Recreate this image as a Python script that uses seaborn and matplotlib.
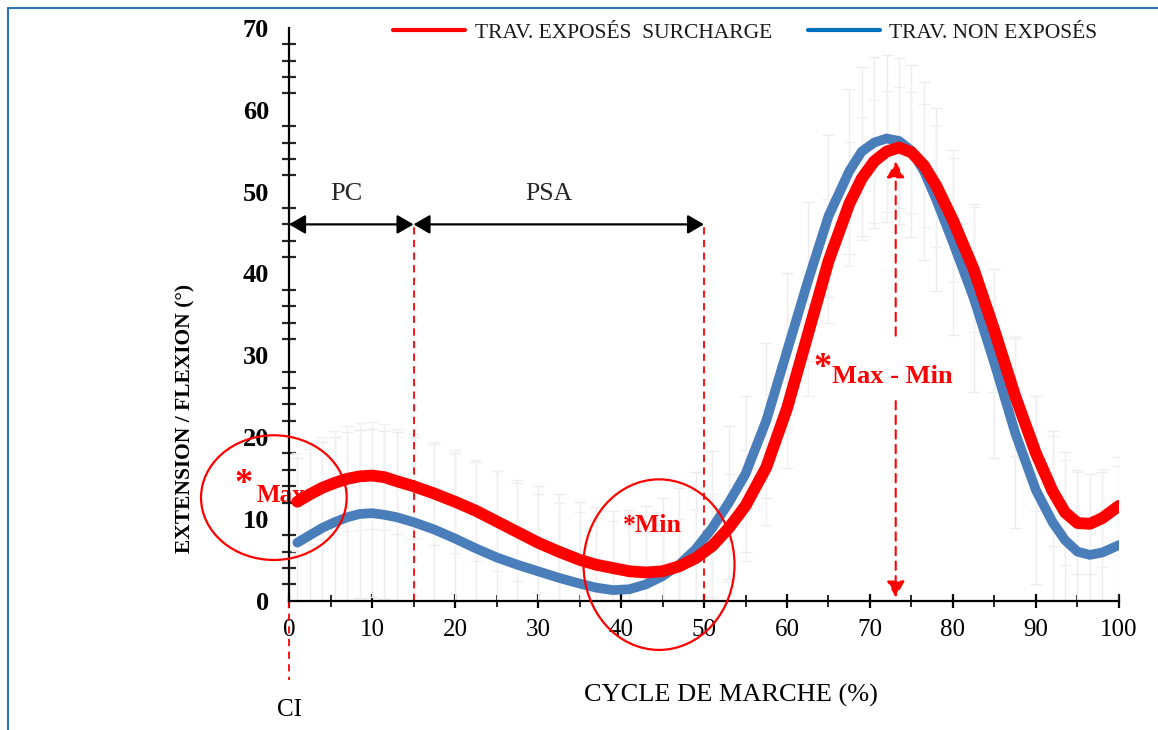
import matplotlib
matplotlib.use("Agg")
import numpy as np
import pandas as pd
import matplotlib.pyplot as plt
import seaborn as sns
from matplotlib.lines import Line2D
from matplotlib.patches import Ellipse

# ---------------- data ----------------
cycle = [1, 2.5, 4, 5.5, 7, 8.5, 10, 11.5, 13,
         15, 17.5, 20, 22.5, 25, 27.5, 30, 32.5, 35,
         37, 39, 41, 43, 45, 47, 49, 51, 53, 55,
         57.5, 60, 62.5, 65, 67.5,
         69, 70.5, 72, 73.5, 75, 76.5, 78,
         80, 82.5, 85, 87.5, 90,
         92, 93.5, 95, 96.5, 98, 100]
exposed = [12.1, 13.0, 13.8, 14.4, 14.9, 15.2, 15.3, 15.1, 14.6,
           14.0, 13.1, 12.1, 11.0, 9.7, 8.4, 7.1, 6.0, 5.0,
           4.4, 4.0, 3.6, 3.45, 3.6, 4.2, 5.2, 6.7, 8.9, 11.6,
           16.3, 23.5, 32.5, 41.5, 48.5,
           51.6, 53.7, 54.9, 55.4, 54.8, 53.2, 50.7,
           46.5, 40.5, 33.0, 25.0, 18.0,
           13.4, 10.8, 9.5, 9.4, 10.1, 11.6]
non_exposed = [7.1, 8.0, 8.9, 9.6, 10.2, 10.6, 10.7, 10.5, 10.2,
               9.6, 8.7, 7.6, 6.4, 5.3, 4.4, 3.6, 2.8, 2.1,
               1.6, 1.3, 1.4, 2.0, 3.0, 4.4, 6.3, 8.9, 12.0, 15.5,
               22.0, 30.5, 39.0, 47.0, 52.5,
               54.9, 56.0, 56.5, 56.2, 55.0, 52.5, 49.0,
               43.8, 37.0, 29.0, 20.5, 13.5,
               9.6, 7.4, 6.0, 5.6, 5.9, 6.8]
sd_non_exposed = [10.4, 10.5, 10.5, 10.4, 10.4, 10.3, 10.3, 10.3, 10.4,
                  10.4, 10.4, 10.4, 10.5, 10.5, 10.4, 10.4, 10.2, 10.0,
                  9.9, 9.7, 9.7, 9.6, 9.5, 9.4, 9.4, 9.4, 9.4, 9.5,
                  9.5, 9.5, 9.7, 9.9, 10.1,
                  10.3, 10.4, 10.2, 10.1, 10.5, 10.9, 11.2,
                  11.3, 11.5, 11.6, 11.6, 11.5,
                  11.2, 10.8, 10.0, 9.9, 9.8, 9.7]
sd_exposed = [6.0, 6.1, 6.2, 6.3, 6.4, 6.5, 6.5, 6.5, 6.4,
              6.4, 6.3, 6.3, 6.2, 6.1, 6.0, 6.0, 5.9, 5.8,
              5.7, 5.7, 5.6, 5.6, 5.7, 5.8, 6.0, 6.3, 6.6, 6.8,
              7.0, 7.3, 7.5, 7.6, 7.6,
              7.5, 7.5, 7.4, 7.4, 7.4, 7.5, 7.5,
              7.6, 7.6, 7.5, 7.3, 7.0,
              6.7, 6.4, 6.2, 6.1, 6.0, 6.0]
series_labels = ["TRAV. EXPOSÉS  SURCHARGE", "TRAV. NON EXPOSÉS"]
x_ticks = [0, 10, 20, 30, 40, 50, 60, 70, 80, 90, 100]
y_ticks = [0, 10, 20, 30, 40, 50, 60, 70]
phase_bounds = [0, 15, 50]
phase_names = ["PC", "PSA"]

df = pd.DataFrame({
    "cycle": cycle * 2,
    "angle": exposed + non_exposed,
    "group": [series_labels[0]] * len(cycle) + [series_labels[1]] * len(cycle),
})

# ---------------- style ----------------
sns.set_theme(style="white")
plt.rcParams["font.family"] = ["Liberation Serif", "DejaVu Serif"]
plt.rcParams["axes.unicode_minus"] = False

RED = "#FF0000"
BLUE_LINE = "#4A7EBB"
BLUE_LEG = "#0070C0"

fig = plt.figure(figsize=(11.58, 7.30), dpi=100)
ax = fig.add_axes([0.2496, 0.1771, 0.7167, 0.7845])

# faint standard-deviation bars
ax.errorbar(cycle, non_exposed, yerr=sd_non_exposed, fmt="none",
            ecolor="#ececec", elinewidth=1.0, capsize=4, capthick=1.0, zorder=1)
ax.errorbar(cycle, exposed, yerr=sd_exposed, fmt="none",
            ecolor="#f0f0f0", elinewidth=1.0, capsize=4, capthick=1.0, zorder=1)

sns.lineplot(data=df[df.group == series_labels[1]], x="cycle", y="angle",
             color=BLUE_LINE, lw=7, ax=ax, legend=False, zorder=3,
             solid_capstyle="round", solid_joinstyle="round")
sns.lineplot(data=df[df.group == series_labels[0]], x="cycle", y="angle",
             color=RED, lw=8.5, ax=ax, legend=False, zorder=4,
             solid_capstyle="round", solid_joinstyle="round")

ax.set_xlim(0, 100)
ax.set_ylim(0, 70)
ax.set_xticks(x_ticks)
ax.set_xticks(np.arange(0, 101, 5), minor=True)
ax.set_yticks(y_ticks)
ax.set_yticks(np.arange(0, 71, 2), minor=True)

for s in ["top", "right"]:
    ax.spines[s].set_visible(False)
for s in ["left", "bottom"]:
    ax.spines[s].set_color("black")
    ax.spines[s].set_linewidth(1.6)

ax.tick_params(axis="y", which="major", direction="inout", length=15, width=1.6,
               labelsize=19, pad=7, colors="black")
ax.tick_params(axis="y", which="minor", direction="inout", length=10, width=1.6,
               left=True)
ax.tick_params(axis="x", which="major", direction="inout", length=10, width=1.6,
               labelsize=18, pad=8, colors="black", bottom=True)
ax.tick_params(axis="x", which="minor", direction="inout", length=8, width=1.4,
               bottom=True)
for lab in ax.get_yticklabels():
    lab.set_fontweight("bold")

ax.set_xlabel("CYCLE DE MARCHE (%)", fontsize=19, color="black")
ax.xaxis.set_label_coords(0.533, -0.145)
ax.set_ylabel("EXTENSION / FLEXION (°)", fontsize=15.5, fontweight="bold",
              color="black")
ax.yaxis.set_label_coords(-0.113, 0.319)

# ---------------- annotations ----------------
dash = (0, (4, 3))
for xb in phase_bounds[1:]:
    ax.plot([xb, xb], [0, 45.8], color=RED, lw=1.3, ls=dash, zorder=2)
ax.plot([0, 0], [0, -9.7], color=RED, lw=1.3, ls=dash, clip_on=False, zorder=2)
ax.text(0, -13.4, "CI", ha="center", va="center", fontsize=18, color="black")

for (a, b), name in zip(zip(phase_bounds[:-1], phase_bounds[1:]), phase_names):
    ax.annotate("", xy=(b, 46.0), xytext=(a, 46.0),
                arrowprops=dict(arrowstyle="<|-|>,head_length=0.55,head_width=0.32",
                                color="black", lw=1.6, mutation_scale=18,
                                shrinkA=0, shrinkB=0), zorder=5)
ax.text(6.9, 49.7, phase_names[0], ha="center", va="center", fontsize=19)
ax.text(31.3, 49.7, phase_names[1], ha="center", va="center", fontsize=18.5)

# Max - Min arrow
x_mm = 73.1
ax.annotate("", xy=(x_mm, 53.7), xytext=(x_mm, 32.4),
            arrowprops=dict(arrowstyle="-|>,head_length=0.55,head_width=0.3",
                            color=RED, lw=1.5, ls=(0, (4, 3)), mutation_scale=18,
                            shrinkA=0, shrinkB=0), zorder=5)
ax.annotate("", xy=(x_mm, 0.4), xytext=(x_mm, 24.4),
            arrowprops=dict(arrowstyle="-|>,head_length=0.55,head_width=0.3",
                            color=RED, lw=1.5, ls=(0, (4, 3)), mutation_scale=18,
                            shrinkA=0, shrinkB=0), zorder=5)
ax.text(64.3, 28.4, "*", ha="center", va="center", fontsize=26,
        fontweight="bold", color=RED)
ax.text(72.65, 27.4, "Max - Min", ha="center", va="center", fontsize=19,
        fontweight="bold", color=RED)

# Max circle
ax.add_patch(Ellipse((-1.83, 12.6), 17.55, 15.24, fill=False, ec=RED, lw=1.6,
                     clip_on=False, zorder=6))
ax.text(-5.5, 14.2, "*", ha="center", va="center", fontsize=26,
        fontweight="bold", color=RED, zorder=2)
ax.text(-1.0, 12.9, "Max", ha="center", va="center", fontsize=18,
        fontweight="bold", color=RED, zorder=2)

# Min circle
ax.add_patch(Ellipse((44.58, 4.41), 18.19, 20.85, fill=False, ec=RED, lw=1.6,
                     clip_on=False, zorder=6))
ax.text(43.8, 9.2, "*Min", ha="center", va="center", fontsize=18.5,
        fontweight="bold", color=RED, zorder=6)

# legend
handles = [Line2D([], [], color=RED, lw=3), Line2D([], [], color=BLUE_LEG, lw=3)]
ax.legend(handles, series_labels, ncol=2, frameon=False, loc="center left",
          bbox_to_anchor=(393 / 1158, 1 - 33 / 730), bbox_transform=fig.transFigure,
          fontsize=15.5, handlelength=3.35, handletextpad=0.45, columnspacing=1.65,
          borderpad=0, borderaxespad=0, labelcolor="#1a1a1a")

# figure frame (blue top and left edges)
fig.add_artist(Line2D([8 / 1158, 1.0], [1 - 8 / 730, 1 - 8 / 730],
                      transform=fig.transFigure, color="#2E75B6", lw=1.5))
fig.add_artist(Line2D([8 / 1158, 8 / 1158], [0, 1 - 8 / 730],
                      transform=fig.transFigure, color="#2E75B6", lw=1.5))

fig.savefig("out.png", dpi=100, facecolor="white")
